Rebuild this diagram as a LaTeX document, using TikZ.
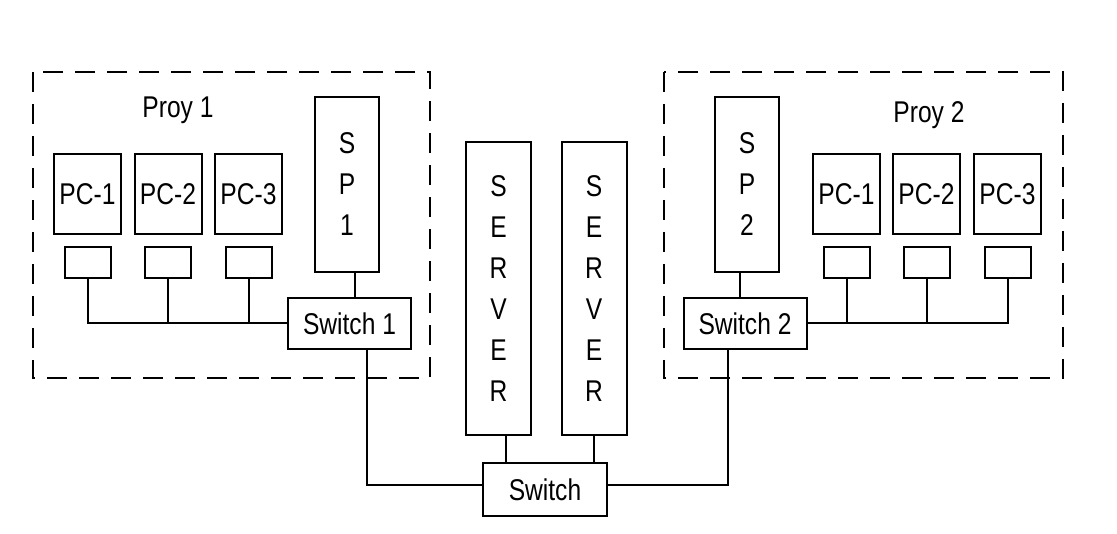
\documentclass[tikz,border=0pt]{standalone}
\usepackage{fontspec}
\setmainfont{Liberation Sans}[FakeStretch=0.82]
\usetikzlibrary{positioning}

\begin{document}
\begin{tikzpicture}[x=1pt, y=-1pt,
          node distance=11pt,
          box/.style={draw, line width=2pt, inner sep=0pt, align=center,
                      font=\fontsize{30}{41}\selectfont},
          pcbox/.style={box, minimum width=67pt, minimum height=80pt},
          nic/.style={box, minimum width=46pt, minimum height=31pt},
          spbox/.style={box, minimum width=64pt, minimum height=175pt},
          srvbox/.style={box, minimum width=65pt, minimum height=293pt},
          swbox/.style={box, minimum width=123pt, minimum height=51pt},
          wire/.style={line width=2pt},
          group/.style={line width=2pt, dash pattern=on 20pt off 12pt},
          grouplbl/.style={font=\fontsize{30}{36}\selectfont},
        ]
        \useasboundingbox (0,0) rectangle (1117,534);

        % Proy 1
        \draw[group] (33,72) rectangle (430,378);
        \node[grouplbl] (proy1) at (178,110) {Proy 1};
        \node[pcbox] (pc11) at (87.5,194)  {PC-1};
        \node[pcbox] (pc12) at (168,194)   {PC-2};
        \node[pcbox] (pc13) at (248.5,194) {PC-3};
        \node[nic, below=11pt of pc11] (nic11) {};
        \node[nic, below=11pt of pc12] (nic12) {};
        \node[nic, below=11pt of pc13] (nic13) {};
        \node[spbox] (sp1) at (347,184.5) {S\\P\\1};
        \node[swbox] (sw1) at (349.5,323.5) {Switch 1};

        % Proy 2
        \draw[group] (664,72) rectangle (1063,378);
        \node[grouplbl] (proy2) at (929,115) {Proy 2};
        \node[pcbox] (pc21) at (846.5,194)  {PC-1};
        \node[pcbox] (pc22) at (926.5,194)  {PC-2};
        \node[pcbox] (pc23) at (1007.5,194) {PC-3};
        \node[nic, below=11pt of pc21] (nic21) {};
        \node[nic, below=11pt of pc22] (nic22) {};
        \node[nic, below=11pt of pc23] (nic23) {};
        \node[spbox] (sp2) at (747,184.5) {S\\P\\2};
        \node[swbox] (sw2) at (745,323.5) {Switch 2};

        % servers
        \node[srvbox] (srv1) at (498.5,288.5) {S\\E\\R\\V\\E\\R};
        \node[srvbox] (srv2) at (594,288.5)   {S\\E\\R\\V\\E\\R};
        \node[swbox, minimum width=124pt, minimum height=53pt] (sw) at (545,489.5) {Switch};

        \draw[wire] (nic11.south) |- (sw1.west);
        \draw[wire] (nic12.south) -- (nic12.south |- sw1.west);
        \draw[wire] (nic13.south) -- (nic13.south |- sw1.west);
        \draw[wire] ([xshift=8pt]sp1.south) -- ([xshift=8pt]sp1.south |- sw1.north);

        \draw[wire] (nic23.south) |- (sw2.east);
        \draw[wire] (nic22.south) -- (nic22.south |- sw2.east);
        \draw[wire] (nic21.south) -- (nic21.south |- sw2.east);
        \draw[wire] ([xshift=-7pt]sp2.south) -- ([xshift=-7pt]sp2.south |- sw2.north);

        \draw[wire] ([xshift=7pt]srv1.south) -- ([xshift=7pt]srv1.south |- sw.north);
        \draw[wire] (srv2.south) -- (srv2.south |- sw.north);
        \draw[wire] ([xshift=17pt]sw1.south) |- ([yshift=4pt]sw.west);
        \draw[wire] ([xshift=-17pt]sw2.south) |- ([yshift=4pt]sw.east);
      \end{tikzpicture}
\end{document}
